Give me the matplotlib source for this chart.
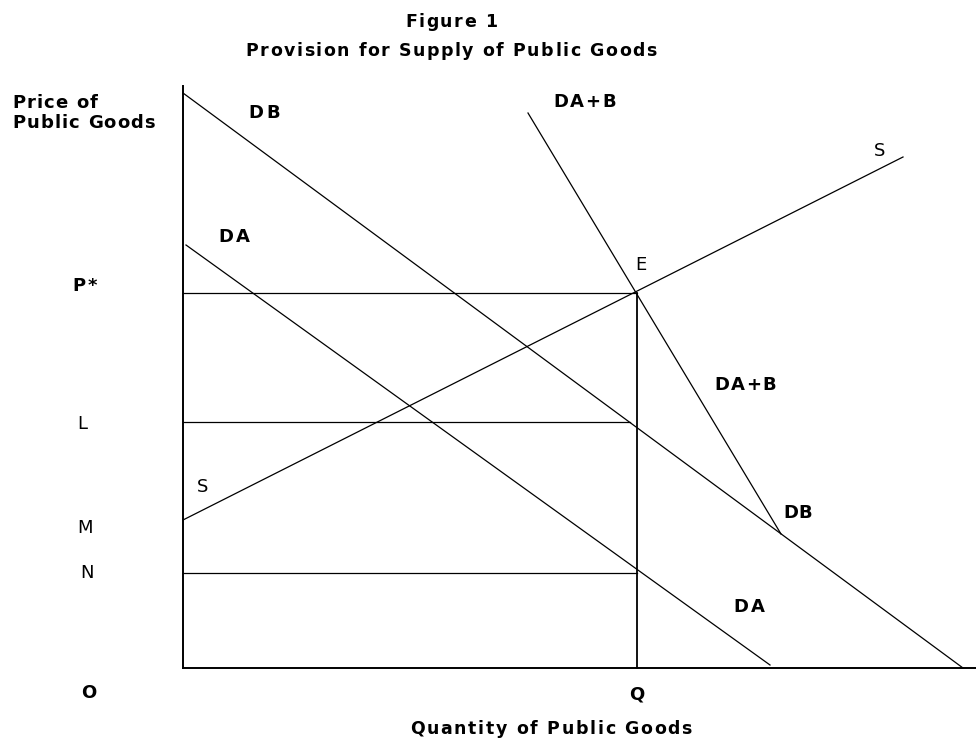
import matplotlib
matplotlib.use("Agg")
import matplotlib.pyplot as plt
from matplotlib.font_manager import FontProperties

plt.rcParams['font.family'] = ['DejaVu Sans']

# Curves: quantity (x) and price (y) at the two ends of each line
db_q = [0, 780]
db_p = [575, 0]
da_q = [3, 587]
da_p = [423, 3]
dab_q = [345, 598]
dab_p = [555, 134]
s_q = [0, 720]
s_p = [148, 511]

# Equilibrium and price levels
q_star = 454
p_star = 375
p_L = 246
p_N = 95
q_L_end = 447

# Axes extents
q_max = 793
p_max = 582

fig = plt.figure(figsize=(9.76, 7.40), dpi=100)
ax = fig.add_axes([0, 0, 1, 1])
ax.set_xlim(-183, 793)
ax.set_ylim(-72, 668)
ax.axis('off')
renderer = fig.canvas.get_renderer()


def spaced(x, y, s, span=None, size=13, weight='bold', ha='center'):
    # draw text letter by letter, stretched to a given span, baseline at y
    fp = FontProperties(family='DejaVu Sans', size=size, weight=weight)

    def width(t):
        return renderer.get_text_width_height_descent(t, fp, ismath=False)[0]

    bar = width('||')
    offs = [width('|' + s[:i] + '|') - bar for i in range(len(s))]
    natural = width('|' + s + '|') - bar
    track = 0.0
    if span is not None and len(s) > 1:
        track = (span - natural) / (len(s) - 1)
    total = natural + track * (len(s) - 1)
    x0 = x - total / 2 if ha == 'center' else x
    for i, ch in enumerate(s):
        if ch == ' ':
            continue
        ax.text(x0 + offs[i] + i * track, y, ch, fontproperties=fp,
                ha='left', va='baseline')


lw = 0.9
# axes
ax.plot([0, 0], [0, p_max], color='black', lw=1.4)
ax.plot([0, q_max], [0, 0], color='black', lw=1.4)

# demand / supply curves
ax.plot(db_q, db_p, color='black', lw=lw)
ax.plot(da_q, da_p, color='black', lw=lw)
ax.plot(dab_q, dab_p, color='black', lw=lw)
ax.plot(s_q, s_p, color='black', lw=lw)

# guide lines
ax.plot([0, q_star], [p_star, p_star], color='black', lw=lw)
ax.plot([0, q_L_end], [p_L, p_L], color='black', lw=lw)
ax.plot([0, q_star], [p_N, p_N], color='black', lw=lw)
ax.plot([q_star, q_star], [0, p_star], color='black', lw=1.3)

# titles
spaced(268, 641, 'Figure 1', span=92, size=12.5)
spaced(268, 612, 'Provision for Supply of Public Goods', span=411, size=12.5)
spaced(368, -66, 'Quantity of Public Goods', span=282, size=12.5)

# axis labels
spaced(-171, 560, 'Price of', span=85, ha='left')
spaced(-171, 540, 'Public Goods', span=143, ha='left')
spaced(-98.5, 377, 'P*', span=25)
spaced(-100.5, 239, 'L', weight='normal')
spaced(-98, 135, 'M', weight='normal')
spaced(-95.5, 89.5, 'N', weight='normal')
spaced(-94.5, -30.5, 'O')
spaced(q_star, -31, 'Q')

# curve labels
spaced(81.5, 550.5, 'DB', span=32)
spaced(401.5, 561, 'DA+B', span=63)
spaced(697, 511.5, 'S', weight='normal')
spaced(51, 425.5, 'DA', span=32)
spaced(457.5, 398.5, 'E', weight='normal')
spaced(562, 278.5, 'DA+B', span=62)
spaced(20, 176.5, 'S', weight='normal')
spaced(615, 150, 'DB', span=29)
spaced(566, 55.5, 'DA', span=32)

fig.savefig('out.png', dpi=100)
